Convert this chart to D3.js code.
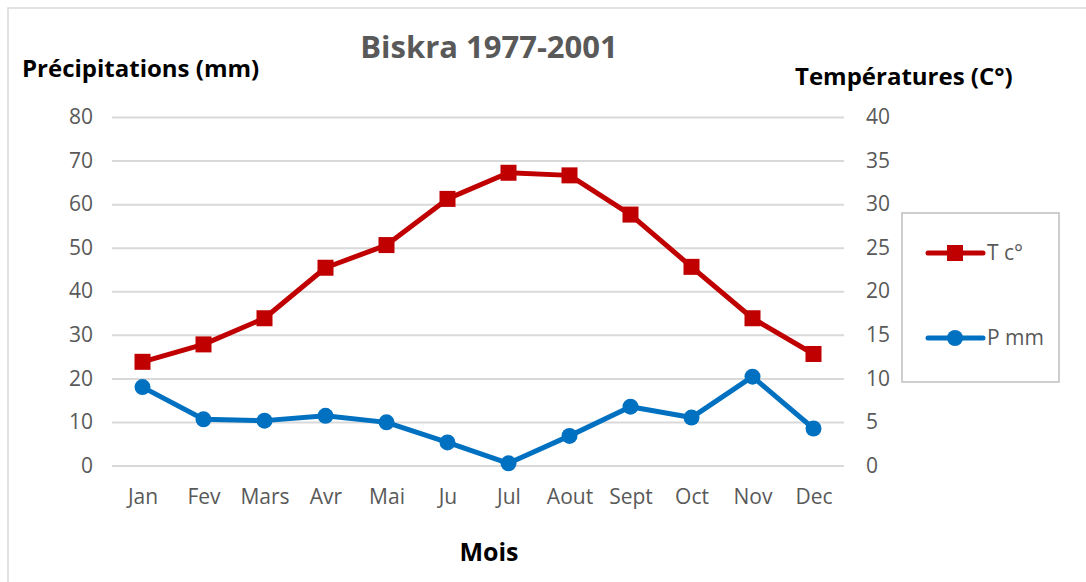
<!DOCTYPE html>
<html>
<head>
<meta charset="utf-8">
<script src="https://cdn.jsdelivr.net/npm/d3@7"></script>
<style>
  body { margin: 0; background: #fff; }
  text { font-family: "Open Sans", sans-serif; }
</style>
</head>
<body>
<div id="chart"></div>
<script>
// data
const months = ["Jan", "Fev", "Mars", "Avr", "Mai", "Ju", "Jul", "Aout", "Sept", "Oct", "Nov", "Dec"];
const tempC = [11.9, 13.9, 16.9, 22.7, 25.3, 30.6, 33.6, 33.3, 28.8, 22.8, 16.9, 12.8];
const precipMm = [18.0, 10.6, 10.3, 11.4, 9.9, 5.3, 0.5, 6.8, 13.5, 11.0, 20.4, 8.5];
const precipTicks = [0, 10, 20, 30, 40, 50, 60, 70, 80];
const tempTicks = [0, 5, 10, 15, 20, 25, 30, 35, 40];

const W = 1086, H = 582;
const plot = {left: 112, right: 844, top: 117, bottom: 465.5};
const red = "#c00000", blue = "#0070c0", grey = "#595959";

const svg = d3.select("#chart")
  .append("svg")
  .attr("width", W)
  .attr("height", H);

// outer chart frame (cropped at right and bottom)
svg.append("rect")
  .attr("x", 8).attr("y", 8)
  .attr("width", W + 10).attr("height", H + 10)
  .attr("fill", "none")
  .attr("stroke", "#d9d9d9")
  .attr("stroke-width", 1.5);

const x = d3.scalePoint()
  .domain(months)
  .range([plot.left, plot.right])
  .padding(0.5);

const yP = d3.scaleLinear().domain([0, 80]).range([plot.bottom, plot.top]);
const yT = d3.scaleLinear().domain([0, 40]).range([plot.bottom, plot.top]);

// horizontal grid lines
svg.append("g")
  .attr("transform", `translate(${plot.left},0)`)
  .call(d3.axisLeft(yP).tickValues(precipTicks).tickSize(-(plot.right - plot.left)).tickFormat(""))
  .call(g => g.select(".domain").remove())
  .call(g => g.selectAll("line").attr("stroke", "#d9d9d9").attr("stroke-width", 2));

// left axis labels
svg.append("g")
  .attr("transform", `translate(${plot.left},0)`)
  .call(d3.axisLeft(yP).tickValues(precipTicks).tickSize(0).tickPadding(19))
  .call(g => g.select(".domain").remove())
  .call(g => g.selectAll("text")
    .attr("fill", grey)
    .style("font-size", "21px")
    .style("font-family", "Open Sans"));

// right axis labels
svg.append("g")
  .attr("transform", `translate(${plot.right},0)`)
  .call(d3.axisRight(yT).tickValues(tempTicks).tickSize(0).tickPadding(22))
  .call(g => g.select(".domain").remove())
  .call(g => g.selectAll("text")
    .attr("fill", grey)
    .style("font-size", "21px")
    .style("font-family", "Open Sans"));

// month labels
svg.append("g")
  .attr("transform", `translate(0,${plot.bottom})`)
  .call(d3.axisBottom(x).tickSize(0).tickPadding(24))
  .call(g => g.select(".domain").remove())
  .call(g => g.selectAll("text")
    .attr("fill", grey)
    .style("font-size", "21px")
    .style("font-family", "Open Sans"));

// temperature line (right axis)
svg.append("path")
  .datum(tempC)
  .attr("fill", "none")
  .attr("stroke", red)
  .attr("stroke-width", 5)
  .attr("stroke-linejoin", "round")
  .attr("d", d3.line().x((d, i) => x(months[i])).y(d => yT(d)));

svg.selectAll(".tmark")
  .data(tempC)
  .join("rect")
  .attr("class", "tmark")
  .attr("x", (d, i) => x(months[i]) - 8)
  .attr("y", d => yT(d) - 8)
  .attr("width", 16)
  .attr("height", 16)
  .attr("fill", red);

// precipitation line (left axis)
svg.append("path")
  .datum(precipMm)
  .attr("fill", "none")
  .attr("stroke", blue)
  .attr("stroke-width", 5)
  .attr("stroke-linejoin", "round")
  .attr("d", d3.line().x((d, i) => x(months[i])).y(d => yP(d)));

svg.selectAll(".pmark")
  .data(precipMm)
  .join("circle")
  .attr("class", "pmark")
  .attr("cx", (d, i) => x(months[i]))
  .attr("cy", d => yP(d))
  .attr("r", 8)
  .attr("fill", blue);

// titles
svg.append("text")
  .attr("x", 489).attr("y", 58)
  .attr("text-anchor", "middle")
  .attr("fill", grey)
  .style("font-size", "31px")
  .style("font-weight", "bold")
  .text("Biskra 1977-2001");

svg.append("text")
  .attr("x", 22).attr("y", 77)
  .attr("fill", "#000")
  .style("font-size", "24px")
  .style("font-weight", "bold")
  .text("Précipitations (mm)");

svg.append("text")
  .attr("x", 795).attr("y", 85)
  .attr("fill", "#000")
  .style("font-size", "24px")
  .style("font-weight", "bold")
  .text("Températures (C°)");

svg.append("text")
  .attr("x", 489).attr("y", 561)
  .attr("text-anchor", "middle")
  .attr("fill", "#000")
  .style("font-size", "25px")
  .style("font-weight", "bold")
  .text("Mois");

// legend
const legend = svg.append("g");
legend.append("rect")
  .attr("x", 902).attr("y", 213)
  .attr("width", 157).attr("height", 169)
  .attr("fill", "#fff")
  .attr("stroke", "#bfbfbf")
  .attr("stroke-width", 1.5);

const legendItems = [
  {label: "T c°", color: red, shape: "square", y: 253},
  {label: "P mm", color: blue, shape: "circle", y: 338}
];
legendItems.forEach(it => {
  legend.append("line")
    .attr("x1", 928).attr("x2", 983)
    .attr("y1", it.y).attr("y2", it.y)
    .attr("stroke", it.color)
    .attr("stroke-width", 5)
    .attr("stroke-linecap", "round");
  if (it.shape === "square") {
    legend.append("rect")
      .attr("x", 955 - 8).attr("y", it.y - 8)
      .attr("width", 16).attr("height", 16)
      .attr("fill", it.color);
  } else {
    legend.append("circle")
      .attr("cx", 955).attr("cy", it.y)
      .attr("r", 8)
      .attr("fill", it.color);
  }
  legend.append("text")
    .attr("x", 987).attr("y", it.y + 7)
    .attr("fill", grey)
    .style("font-size", "21px")
    .text(it.label);
});
</script>
</body>
</html>
